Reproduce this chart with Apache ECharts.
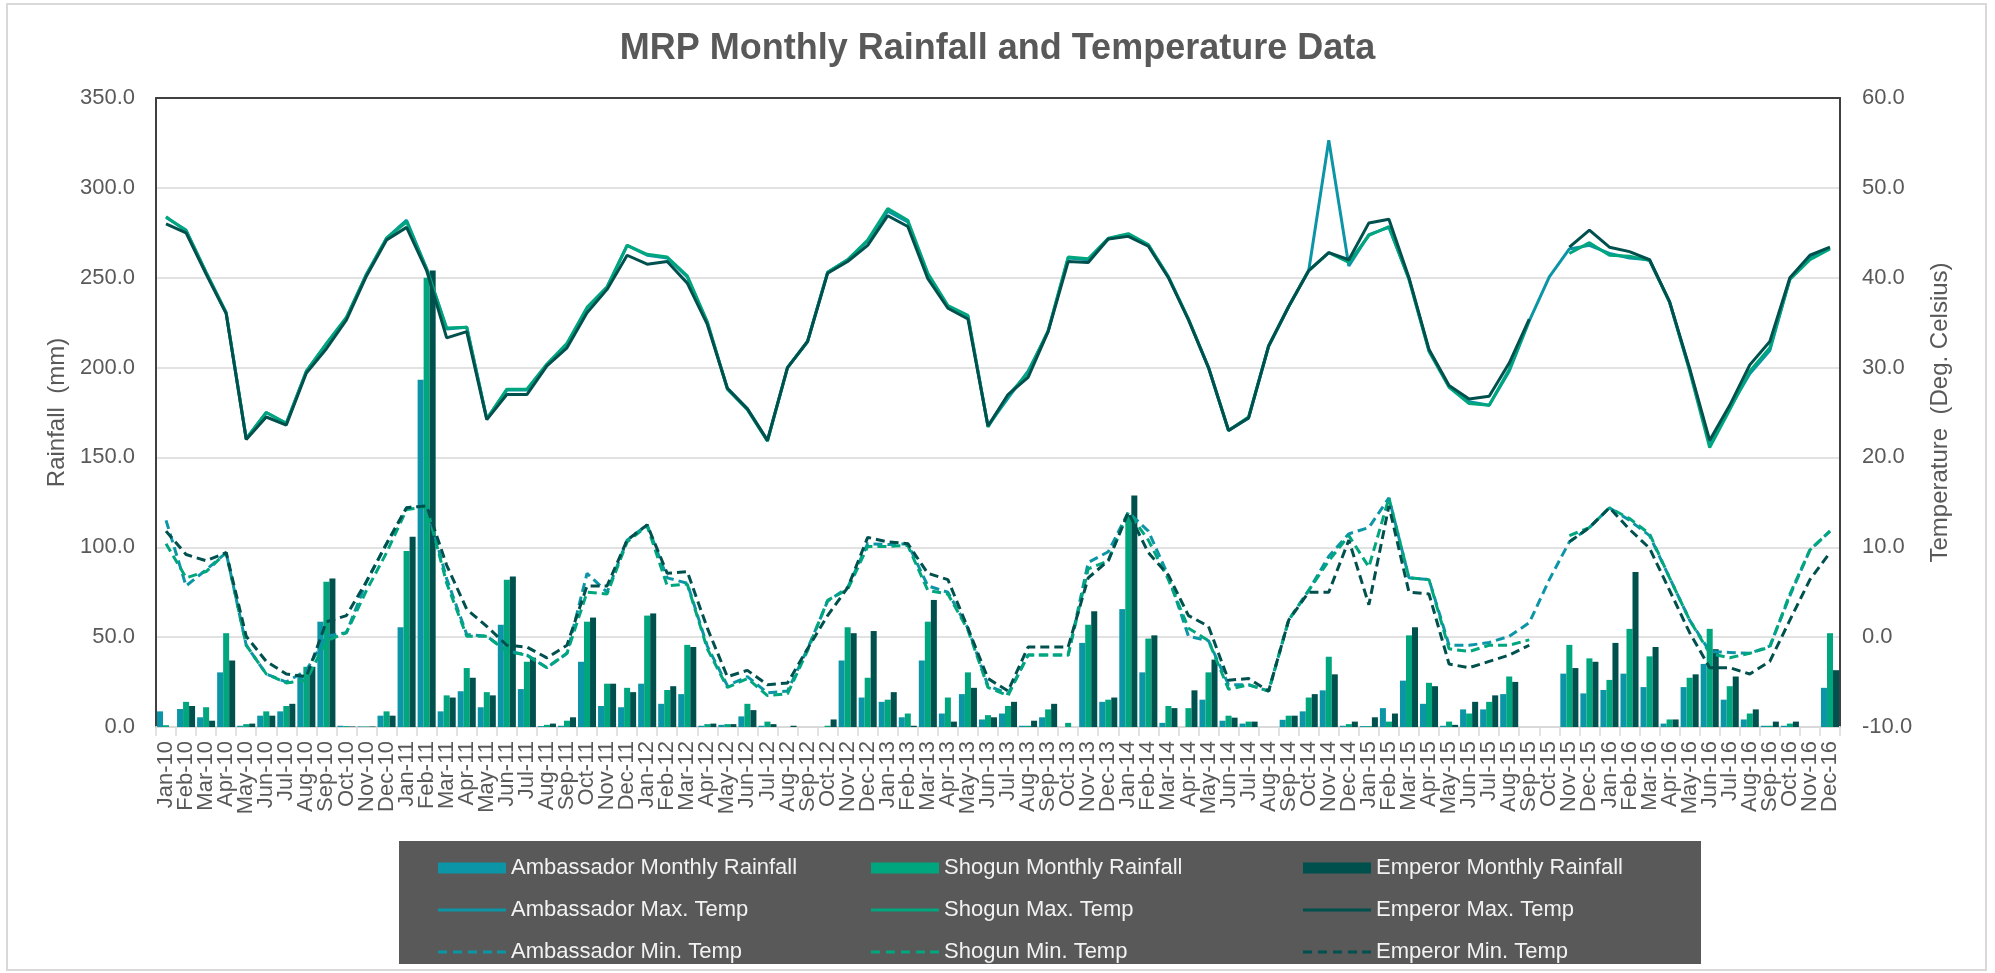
<!DOCTYPE html>
<html>
<head>
<meta charset="utf-8">
<script src="https://cdn.jsdelivr.net/npm/echarts@6/dist/echarts.min.js"></script>
<style>
html,body{margin:0;padding:0;background:#fff;}
#chart{width:1995px;height:973px;}
</style>
</head>
<body>
<div id="chart"></div>
<script>
var months = ['Jan-10','Feb-10','Mar-10','Apr-10','May-10','Jun-10','Jul-10','Aug-10','Sep-10','Oct-10','Nov-10','Dec-10',
'Jan-11','Feb-11','Mar-11','Apr-11','May-11','Jun-11','Jul-11','Aug-11','Sep-11','Oct-11','Nov-11','Dec-11',
'Jan-12','Feb-12','Mar-12','Apr-12','May-12','Jun-12','Jul-12','Aug-12','Sep-12','Oct-12','Nov-12','Dec-12',
'Jan-13','Feb-13','Mar-13','Apr-13','May-13','Jun-13','Jul-13','Aug-13','Sep-13','Oct-13','Nov-13','Dec-13',
'Jan-14','Feb-14','Mar-14','Apr-14','May-14','Jun-14','Jul-14','Aug-14','Sep-14','Oct-14','Nov-14','Dec-14',
'Jan-15','Feb-15','Mar-15','Apr-15','May-15','Jun-15','Jul-15','Aug-15','Sep-15','Oct-15','Nov-15','Dec-15',
'Jan-16','Feb-16','Mar-16','Apr-16','May-16','Jun-16','Jul-16','Aug-16','Sep-16','Oct-16','Nov-16','Dec-16'];

var rainfallTicks = [0, 350, 50];
var tempTicks = [-10, 60, 10];

var ambRain = [8.7,10,5.4,30.4,0.7,6.3,8.7,28.8,58.6,0.7,0.3,6.3,
55.5,193.2,8.7,19.9,11,56.9,21.1,0.5,0.7,36.3,11.7,11,
24.1,12.9,18.3,0.7,1.2,5.9,0.7,0,0,0,37,16.4,
14,5.4,37,7.5,18.3,4.2,7.5,0.7,5.4,0,46.8,14,
65.6,30.4,2.3,0,15.2,3.5,1.9,0,4,8.7,20.4,0.7,
0.5,10.5,25.8,12.9,0.7,9.8,9.8,18.3,null,null,29.7,18.7,
20.6,29.7,22.2,1.9,22.2,35.1,15.2,4.2,0.7,0.7,null,21.8];

var shoRain = [1,14,11,52.2,1.6,8.7,11.7,33.5,80.8,0.5,0.3,8.7,
97.9,250,17.6,32.8,19.4,82,36.3,1.2,3.5,58.6,24.1,21.8,
62,20.6,45.7,1.6,1.6,12.9,3,0,0,0.7,55.5,27.4,
15.2,7.5,58.6,16.4,30.4,6.6,11.7,0.7,9.8,2.3,56.9,15.2,
118,49.2,11.7,10.5,30.4,6.3,3,0,6.3,16.4,39.1,1.6,
0.5,3,51,24.6,3,7.5,14,28.1,null,null,45.7,38.2,
26.2,54.6,39.3,4.2,27.4,54.6,22.7,7.5,0.7,1.9,null,52.2];

var empRain = [0,11.7,3.5,37,1.9,6.3,12.9,33.5,82.7,0.3,0.3,6.3,
105.9,254,16.4,27.4,17.6,83.8,38.6,1.9,5.4,60.9,24.1,19.4,
63.2,22.7,44.5,1.9,1.6,9.4,1.6,0.7,0,4.2,52.2,53.4,
19.4,0.7,70.7,3,21.8,5.4,14,3.5,12.9,0,64.4,16.4,
128.8,51,10.5,20.4,37.5,5.2,3,0,6.3,18.3,29.3,3,
5.4,7.5,55.5,22.7,1.2,14,17.6,25.1,null,null,32.8,36.3,
46.8,86.2,44.5,4.2,29.3,43.3,28.1,9.8,3,3,null,31.6];

var ambMax = [46.7,45.3,40.6,36.1,22.1,25.0,23.8,29.6,32.6,35.5,40.4,44.4,
46.4,41.0,34.3,34.5,24.3,27.5,27.5,30.3,32.6,36.6,38.9,43.6,
42.5,42.2,40.1,35.0,27.7,25.4,21.9,30.0,32.9,40.6,42.0,44.1,
47.4,46.2,40.4,36.8,35.7,23.5,26.6,29.6,34.0,42.2,42.0,44.3,
44.8,43.6,40.1,35.4,30.0,23.0,24.4,32.4,36.8,40.8,55.3,41.3,
44.8,45.6,39.9,31.9,27.9,26.2,25.8,29.6,35.2,40.1,43.2,43.6,
42.7,42.2,42.0,37.3,29.8,21.5,25.5,29.3,31.9,39.9,42.3,43.3];

var shoMax = [46.8,45.2,40.6,36.1,22.1,25.0,23.8,29.6,32.7,35.6,40.4,44.4,
46.2,41.0,34.4,34.5,24.3,27.6,27.6,30.4,32.7,36.7,39.0,43.6,
42.6,42.3,40.2,35.1,27.6,25.3,21.8,30.0,32.9,40.6,42.0,44.2,
47.7,46.4,40.5,36.9,35.8,23.4,26.9,29.4,34.1,42.3,42.1,44.4,
44.9,43.7,40.1,35.4,30.0,23.0,24.5,32.4,36.8,40.8,42.8,41.7,
44.7,45.7,39.8,31.8,27.8,26.0,25.8,29.8,35.3,null,42.7,43.9,
42.5,42.4,41.9,37.3,29.6,21.1,25.3,29.6,32.2,39.8,42.0,43.2];

var empMax = [46.0,45.0,40.4,36.0,22.0,24.5,23.6,29.4,32.1,35.3,40.2,44.2,
45.6,40.8,33.3,34.0,24.2,27.0,27.0,30.2,32.2,36.1,38.7,42.5,
41.5,41.8,39.4,34.8,27.7,25.4,21.9,30.0,32.9,40.5,41.8,43.6,
46.9,45.7,39.9,36.6,35.4,23.5,27.0,28.9,34.0,41.8,41.7,44.3,
44.6,43.5,40.0,35.3,30.0,23.0,24.4,32.4,36.8,40.8,42.8,42.0,
46.1,46.5,40.0,32.0,28.0,26.5,26.8,30.5,35.4,null,43.4,45.3,
43.4,42.9,42.0,37.3,29.9,21.9,25.8,30.3,32.9,40.0,42.5,43.4];

var ambMin = [13.0,5.7,7.5,9.4,-0.9,-4.1,-5.0,-3.7,0.1,0.5,6.2,10.4,
14.4,14.6,6.5,0.3,0.1,-1.5,-2.0,-3.4,-1.8,7.1,5.0,10.8,
12.5,6.6,6.0,-1.0,-5.4,-4.4,-6.2,-6.0,-1.3,4.0,5.5,10.4,
10.3,10.4,5.7,5.0,1.0,-5.4,-6.3,-2.0,-2.0,-2.0,8.3,9.5,
13.9,11.8,6.8,0.1,-0.4,-5.3,-5.3,-6.0,1.9,5.2,9.0,11.5,
12.2,15.5,6.6,6.4,-0.9,-0.9,-0.6,0.1,1.6,6.4,10.6,12.2,
14.4,13.0,11.3,6.6,1.9,-1.6,-1.7,-1.8,-1.0,4.6,9.7,11.8];

var shoMin = [10.4,6.6,7.3,9.4,-0.9,-4.1,-5.1,-4.8,-0.4,0.5,5.2,9.4,
14.2,14.5,6.0,0.1,0.1,-1.6,-2.0,-3.4,-1.8,5.0,4.8,10.6,
12.4,5.7,5.9,-1.3,-5.6,-4.6,-6.5,-6.3,-1.5,4.1,5.3,10.1,
10.1,10.2,5.2,4.8,0.8,-5.6,-6.5,-2.0,-2.0,-2.0,7.6,8.5,
13.9,10.8,6.4,1.0,-0.4,-5.8,-5.3,-6.0,1.9,5.2,8.5,11.3,
7.8,15.5,6.6,6.4,-1.3,-1.6,-0.9,-0.9,-0.3,null,11.3,12.2,
14.4,13.2,11.5,6.6,1.9,-1.8,-2.3,-1.8,-1.1,4.8,9.7,11.8];

var empMin = [11.8,9.2,8.5,9.4,0.1,-2.7,-4.1,-4.4,1.7,2.4,6.2,10.4,
14.4,14.6,8.0,3.1,1.2,-0.9,-1.1,-2.3,-0.9,5.7,5.7,10.8,
12.5,7.1,7.3,1.0,-4.4,-3.7,-5.3,-5.1,-1.3,2.4,5.5,11.1,
10.6,10.4,7.1,6.4,1.0,-4.6,-6.0,-1.1,-1.1,-1.1,6.6,8.5,
13.9,9.4,6.9,2.4,1.2,-4.8,-4.6,-6.0,1.9,5.0,5.0,10.8,
3.6,14.6,5.0,4.8,-3.0,-3.4,-2.7,-2.0,-0.9,null,10.6,12.2,
14.4,12.0,9.9,5.2,0.5,-3.4,-3.4,-4.1,-2.7,1.9,6.4,9.4];

var C_AMB = '#0b95a6', C_SHO = '#00a67d', C_EMP = '#00504e';
var FONT = "'Liberation Sans', Arial, sans-serif";
var GREY = '#595959';

var ICON_SOLID = 'path://M0,0h68v3h-68z';
var ICON_DASH = 'path://M0,0h9v3h-9z M15,0h9v3h-9z M30,0h9v3h-9z M45,0h9v3h-9z M59,0h9v3h-9z';

function barSeries(name, data, color) {
  return {name: name, type: 'bar', yAxisIndex: 0, data: data,
    itemStyle: {color: color}, barGap: '0%', barCategoryGap: '10%'};
}
function lineSeries(name, data, color, dashed) {
  return {name: name, type: 'line', yAxisIndex: 1, data: data, symbol: 'none',
    showSymbol: false, connectNulls: false,
    itemStyle: {color: color},
    lineStyle: {color: color, width: 3, type: dashed ? [9, 5] : 'solid'}};
}
function iconFor(n) {
  if (n.indexOf('Rainfall') >= 0) return 'rect';
  if (n.indexOf('Min.') >= 0) return ICON_DASH;
  return ICON_SOLID;
}
function legendCol(left, names) {
  return {left: left, top: 852, orient: 'vertical', itemGap: 20, itemWidth: 68, itemHeight: 11,
    selectedMode: false, symbolKeepAspect: true,
    data: names.map(function(n){return {name: n, icon: iconFor(n)};}),
    textStyle: {color: '#f2f2f2', fontSize: 22, fontFamily: FONT}};
}

var chart = echarts.init(document.getElementById('chart'), null, {renderer: 'canvas'});
chart.setOption({
  animation: false,
  backgroundColor: '#ffffff',
  textStyle: {fontFamily: FONT},
  title: {text: 'MRP Monthly Rainfall and Temperature Data', left: 'center', top: 26,
    textStyle: {fontSize: 36, fontWeight: 'bold', color: GREY, fontFamily: FONT}},
  graphic: [
    {type: 'rect', z: -10, shape: {x: 7, y: 4, width: 1979, height: 966},
      style: {fill: 'none', stroke: '#d9d9d9', lineWidth: 2}},
    {type: 'rect', z: 0, shape: {x: 399, y: 841, width: 1302, height: 123},
      style: {fill: '#595959'}}
  ],
  legend: [
    legendCol(433, ['Ambassador Monthly Rainfall', 'Ambassador Max. Temp', 'Ambassador Min. Temp']),
    legendCol(866, ['Shogun Monthly Rainfall', 'Shogun Max. Temp', 'Shogun Min. Temp']),
    legendCol(1298, ['Emperor Monthly Rainfall', 'Emperor Max. Temp', 'Emperor Min. Temp'])
  ],
  grid: {left: 156, right: 155, top: 98, bottom: 246, containLabel: false},
  xAxis: [
    {type: 'category', data: months, boundaryGap: true,
      axisLine: {show: true, onZero: false, lineStyle: {color: '#d9d9d9', width: 2}},
      axisTick: {show: true, interval: 0, length: 9, lineStyle: {color: '#d9d9d9', width: 1.5}},
      axisLabel: {interval: 0, rotate: 90, margin: 14, fontSize: 22, color: GREY, fontFamily: FONT},
      splitLine: {show: false}},
    {type: 'category', data: months, position: 'top', boundaryGap: true,
      axisLine: {show: true, onZero: false, lineStyle: {color: '#404040', width: 2}},
      axisTick: {show: false}, axisLabel: {show: false}, splitLine: {show: false}}
  ],
  yAxis: [
    {type: 'value', min: rainfallTicks[0], max: rainfallTicks[1], interval: rainfallTicks[2], position: 'left',
      name: 'Rainfall  (mm)', nameLocation: 'middle', nameGap: 86,
      nameTextStyle: {fontSize: 24, color: GREY, fontFamily: FONT},
      axisLine: {show: true, onZero: false, lineStyle: {color: '#404040', width: 2}},
      axisTick: {show: false},
      axisLabel: {fontSize: 22, color: GREY, margin: 21, fontFamily: FONT,
        formatter: function(v){return v.toFixed(1);}},
      splitLine: {show: true, lineStyle: {color: '#d9d9d9', width: 1.5}}},
    {type: 'value', min: tempTicks[0], max: tempTicks[1], interval: tempTicks[2], position: 'right',
      name: 'Temperature  (Deg. Celsius)', nameLocation: 'middle', nameGap: 88,
      nameTextStyle: {fontSize: 24, color: GREY, fontFamily: FONT},
      axisLine: {show: true, onZero: false, lineStyle: {color: '#404040', width: 2}},
      axisTick: {show: false},
      axisLabel: {fontSize: 22, color: GREY, margin: 22, fontFamily: FONT,
        formatter: function(v){return v.toFixed(1);}},
      splitLine: {show: false}}
  ],
  series: [
    barSeries('Ambassador Monthly Rainfall', ambRain, C_AMB),
    barSeries('Shogun Monthly Rainfall', shoRain, C_SHO),
    barSeries('Emperor Monthly Rainfall', empRain, C_EMP),
    lineSeries('Ambassador Max. Temp', ambMax, C_AMB, false),
    lineSeries('Shogun Max. Temp', shoMax, C_SHO, false),
    lineSeries('Emperor Max. Temp', empMax, C_EMP, false),
    lineSeries('Ambassador Min. Temp', ambMin, C_AMB, true),
    lineSeries('Shogun Min. Temp', shoMin, C_SHO, true),
    lineSeries('Emperor Min. Temp', empMin, C_EMP, true)
  ]
});
</script>
</body>
</html>
